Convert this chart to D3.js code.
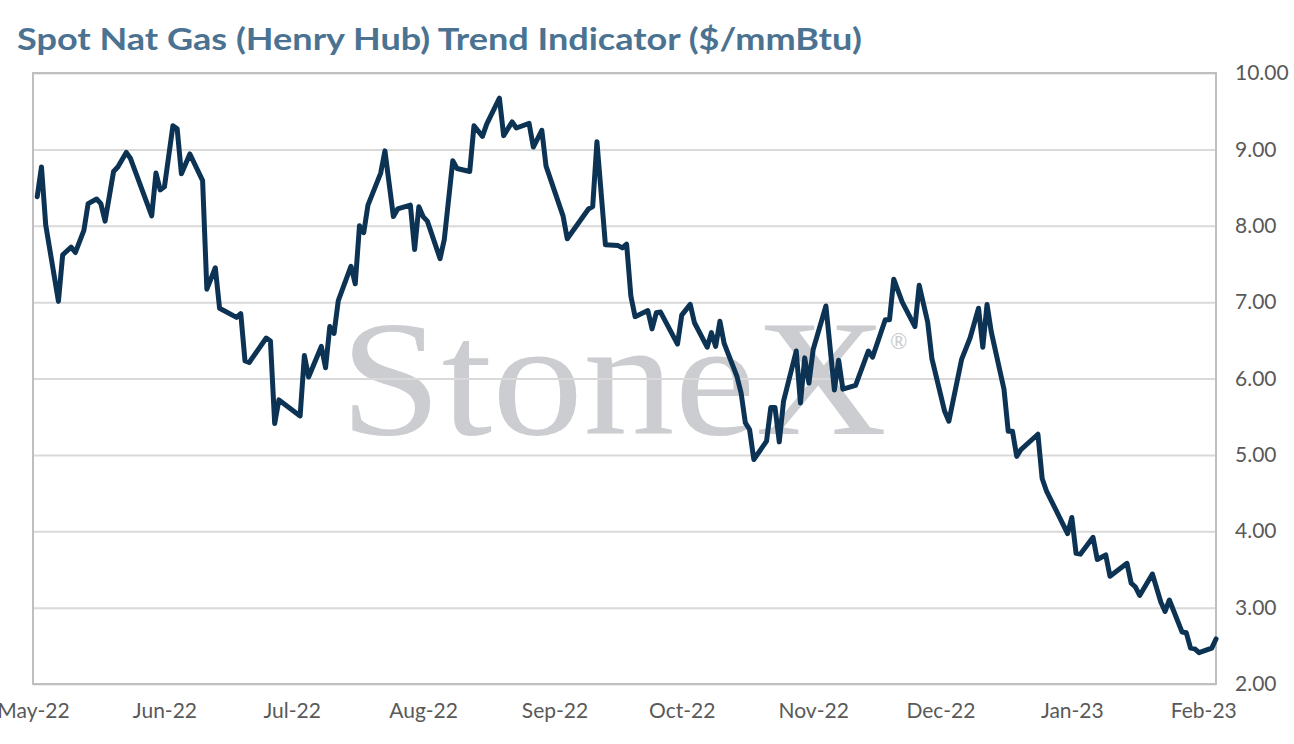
<!DOCTYPE html>
<html>
<head>
<meta charset="utf-8">
<script src="https://cdn.jsdelivr.net/npm/d3@7"></script>
<style>
  body { margin: 0; background: #fff; }
</style>
</head>
<body>
<div id="vis"></div>
<script>
const FRAME_WIDTH = 1294;
const FRAME_HEIGHT = 744;
const MARGINS = {left: 33, right: 78, top: 73, bottom: 60};

const VIS_WIDTH = FRAME_WIDTH - MARGINS.left - MARGINS.right;
const VIS_HEIGHT = FRAME_HEIGHT - MARGINS.top - MARGINS.bottom;

const TITLE = 'Spot Nat Gas (Henry Hub) Trend Indicator ($/mmBtu)';
const SANS = 'Lato, "Open Sans", sans-serif';

// values
const dates = [
  '2022-05-02','2022-05-03','2022-05-04','2022-05-07','2022-05-08','2022-05-10','2022-05-11',
  '2022-05-13','2022-05-14','2022-05-16','2022-05-17','2022-05-18','2022-05-20','2022-05-21',
  '2022-05-23','2022-05-24','2022-05-29','2022-05-30','2022-05-31','2022-06-01','2022-06-03',
  '2022-06-04','2022-06-05','2022-06-07','2022-06-10','2022-06-11','2022-06-13','2022-06-14',
  '2022-06-18','2022-06-19','2022-06-20','2022-06-21','2022-06-25','2022-06-26','2022-06-27',
  '2022-06-28','2022-07-03','2022-07-04','2022-07-05','2022-07-08','2022-07-09','2022-07-10',
  '2022-07-11','2022-07-12','2022-07-15','2022-07-16','2022-07-17','2022-07-18','2022-07-19',
  '2022-07-22','2022-07-23','2022-07-25','2022-07-26','2022-07-29','2022-07-30','2022-07-31',
  '2022-08-01','2022-08-02','2022-08-05','2022-08-06','2022-08-08','2022-08-09','2022-08-12',
  '2022-08-13','2022-08-15','2022-08-16','2022-08-19','2022-08-20','2022-08-22','2022-08-23',
  '2022-08-26','2022-08-27','2022-08-29','2022-08-30','2022-09-03','2022-09-04','2022-09-09',
  '2022-09-10','2022-09-11','2022-09-13','2022-09-16','2022-09-17','2022-09-18','2022-09-19',
  '2022-09-20','2022-09-23','2022-09-24','2022-09-25','2022-09-26','2022-09-30','2022-10-01',
  '2022-10-03','2022-10-04','2022-10-07','2022-10-08','2022-10-09','2022-10-10','2022-10-11',
  '2022-10-14','2022-10-15','2022-10-16','2022-10-17','2022-10-18','2022-10-21','2022-10-22',
  '2022-10-23','2022-10-24','2022-10-25','2022-10-28','2022-10-29','2022-10-30','2022-10-31',
  '2022-11-01','2022-11-04','2022-11-06','2022-11-07','2022-11-08','2022-11-11','2022-11-14',
  '2022-11-15','2022-11-18','2022-11-19','2022-11-20','2022-11-22','2022-11-25','2022-11-26',
  '2022-11-28','2022-11-29','2022-12-02','2022-12-03','2022-12-06','2022-12-08','2022-12-10',
  '2022-12-11','2022-12-12','2022-12-13','2022-12-16','2022-12-17','2022-12-18','2022-12-19',
  '2022-12-20','2022-12-24','2022-12-25','2022-12-26','2022-12-31','2023-01-01','2023-01-02',
  '2023-01-03','2023-01-06','2023-01-07','2023-01-09','2023-01-10','2023-01-14','2023-01-15',
  '2023-01-16','2023-01-17','2023-01-20','2023-01-22','2023-01-23','2023-01-24','2023-01-27',
  '2023-01-28','2023-01-29','2023-01-30','2023-01-31','2023-02-03','2023-02-04'
];

const prices = [
  8.38, 8.77, 8.01, 7.01, 7.62, 7.72, 7.65,
  7.94, 8.29, 8.35, 8.29, 8.06, 8.71, 8.77,
  8.96, 8.88, 8.13, 8.69, 8.47, 8.51, 9.31,
  9.27, 8.68, 8.94, 8.59, 7.17, 7.45, 6.92,
  6.80, 6.85, 6.23, 6.21, 6.53, 6.49, 5.41,
  5.72, 5.51, 6.30, 6.02, 6.42, 6.14, 6.68,
  6.59, 7.02, 7.47, 7.24, 8.00, 7.91, 8.27,
  8.69, 8.98, 8.12, 8.22, 8.27, 7.69, 8.25,
  8.12, 8.06, 7.57, 7.82, 8.85, 8.75, 8.71,
  9.31, 9.17, 9.33, 9.67, 9.18, 9.36, 9.28,
  9.34, 9.03, 9.25, 8.78, 8.13, 7.83, 8.22,
  8.25, 9.10, 7.75, 7.74, 7.71, 7.76, 7.08,
  6.81, 6.89, 6.65, 6.86, 6.87, 6.45, 6.83,
  6.97, 6.73, 6.41, 6.60, 6.42, 6.75, 6.46,
  6.03, 5.81, 5.42, 5.33, 4.94, 5.18, 5.62,
  5.62, 5.17, 5.70, 6.36, 5.68, 6.27, 5.94,
  6.38, 6.95, 5.85, 6.24, 5.86, 5.91, 6.36,
  6.28, 6.77, 6.77, 7.30, 7.00, 6.68, 7.22,
  6.74, 6.26, 5.57, 5.44, 6.25, 6.53, 6.92,
  6.41, 6.97, 6.61, 5.86, 5.31, 5.31, 4.98,
  5.07, 5.27, 4.69, 4.53, 3.97, 4.18, 3.71,
  3.70, 3.92, 3.63, 3.69, 3.41, 3.58, 3.32,
  3.27, 3.16, 3.44, 3.07, 2.95, 3.10, 2.68,
  2.67, 2.47, 2.46, 2.41, 2.47, 2.59
];

const xTicks = ['2022-05-01','2022-06-01','2022-07-01','2022-08-01','2022-09-01','2022-10-01',
                '2022-11-01','2022-12-01','2023-01-01','2023-02-01'];
const yTicks = [2, 3, 4, 5, 6, 7, 8, 9, 10];
const X_START = '2022-05-01';
const X_END = '2023-02-04';

const parse = d3.timeParse('%Y-%m-%d');
const data = dates.map((d, i) => ({date: parse(d), value: prices[i]}));

const FRAME = d3.select('#vis')
  .append('svg')
    .attr('width', FRAME_WIDTH)
    .attr('height', FRAME_HEIGHT);

const X_SCALE = d3.scaleTime()
  .domain([parse(X_START), parse(X_END)])
  .range([0, VIS_WIDTH]);

const Y_SCALE = d3.scaleLinear()
  .domain([2, 10])
  .range([VIS_HEIGHT, 0]);

// title
FRAME.append('text')
  .attr('x', 17)
  .attr('y', 50)
  .attr('textLength', 845)
  .attr('lengthAdjust', 'spacingAndGlyphs')
  .style('font-family', SANS)
  .style('font-size', '31px')
  .style('font-weight', 'bold')
  .attr('fill', '#4b7391')
  .text(TITLE);

const G = FRAME.append('g')
  .attr('transform', 'translate(' + MARGINS.left + ',' + MARGINS.top + ')');

// watermark
G.append('text')
  .attr('x', 340 - MARGINS.left)
  .attr('y', 434 - MARGINS.top)
  .attr('textLength', 547)
  .attr('lengthAdjust', 'spacingAndGlyphs')
  .style('font-family', '"Liberation Serif", "DejaVu Serif", serif')
  .style('font-size', '166px')
  .attr('fill', '#cbcdd1')
  .text('StoneX');
G.append('text')
  .attr('x', 890 - MARGINS.left)
  .attr('y', 349 - MARGINS.top)
  .style('font-family', SANS)
  .style('font-size', '21px')
  .attr('fill', '#cbcdd1')
  .text('®');

// gridlines + y labels
const yAxis = G.append('g')
  .attr('transform', 'translate(' + VIS_WIDTH + ',0)')
  .call(d3.axisRight(Y_SCALE)
    .tickValues(yTicks)
    .tickSize(-VIS_WIDTH)
    .tickPadding(19)
    .tickFormat(d3.format('.2f')));
yAxis.select('.domain').remove();
yAxis.selectAll('line')
  .attr('stroke', '#d9d9d9')
  .attr('stroke-width', 2);
yAxis.selectAll('text')
  .style('font-family', SANS)
  .style('font-size', '21px')
  .attr('fill', '#595959');

// plot frame
G.append('rect')
  .attr('x', 0)
  .attr('y', 0)
  .attr('width', VIS_WIDTH)
  .attr('height', VIS_HEIGHT)
  .attr('fill', 'none')
  .attr('stroke', '#bfbfbf')
  .attr('stroke-width', 2);

// x labels
const xAxis = G.append('g')
  .attr('transform', 'translate(0,' + VIS_HEIGHT + ')')
  .call(d3.axisBottom(X_SCALE)
    .tickValues(xTicks.map(parse))
    .tickSize(0)
    .tickPadding(19)
    .tickFormat(d3.timeFormat('%b-%y')));
xAxis.select('.domain').remove();
xAxis.selectAll('text')
  .style('font-family', SANS)
  .style('font-size', '21px')
  .attr('fill', '#595959');

// price line
G.append('path')
  .datum(data)
  .attr('fill', 'none')
  .attr('stroke', '#0c3354')
  .attr('stroke-width', 5)
  .attr('stroke-linejoin', 'round')
  .attr('stroke-linecap', 'round')
  .attr('d', d3.line()
    .x(d => X_SCALE(d.date))
    .y(d => Y_SCALE(d.value)));
</script>
</body>
</html>
